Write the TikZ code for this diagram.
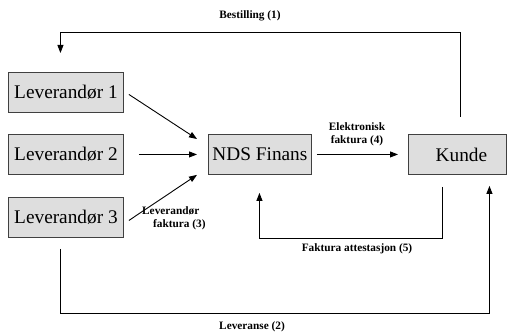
\documentclass[tikz,border=0pt]{standalone}
\usepackage{fontspec}
\setmainfont{Liberation Serif}
\usetikzlibrary{arrows.meta}
\begin{document}
\begin{tikzpicture}[x=1pt,y=-1pt,
  box/.style={draw=black!75, fill=black!13, line width=0.9pt, minimum height=40pt, inner sep=0pt, anchor=north west, font=\rmfamily\fontsize{19.3}{22}\selectfont},
  lbl/.style={font=\rmfamily\bfseries\fontsize{11.3}{13}\selectfont, inner sep=0pt},
  arr/.style={line width=0.9pt, -{Triangle[length=8pt,width=6pt]}}]
\useasboundingbox (0,0) rectangle (508,334);
\node[box, minimum width=115pt] (l1) at (8,72) {Leverandør 1};
\node[box, minimum width=115pt] (l2) at (8,134) {Leverandør 2};
\node[box, minimum width=115pt] (l3) at (8,197) {Leverandør 3};
\node[box, minimum width=103pt] (nds) at (208,134) {NDS Finans};
\node[box, minimum width=98pt] (kunde) at (408,134) {\hspace{8pt}Kunde};
% supplier to NDS
\draw[arr] ([shift={(5,2)}]l1.east) -- ([shift={(-11,5)}]nds.north west);
\draw[arr] ([xshift=15pt]l2.east) -- ([xshift=-11pt]nds.west);
\draw[arr] ([shift={(5,3)}]l3.east) -- ([shift={(-11,0)}]nds.south west);
% NDS to Kunde
\draw[arr] ([xshift=5pt]nds.east) -- ([xshift=-10pt]kunde.west);
% Bestilling
\draw[arr] ([shift={(3,-17)}]kunde.north) |- ([shift={(-5.5,-40)}]l1.north) -- ([shift={(-5.5,-19)}]l1.north);
% Leveranse
\draw[arr] ([shift={(-5.5,11)}]l3.south) -- ([shift={(-5.5,76)}]l3.south) -| ([shift={(32,11)}]kunde.south);
% Attestasjon
\draw[arr] ([shift={(-15,12)}]kunde.south) -- ([shift={(-15,64)}]kunde.south) -| ([shift={(-0.5,18)}]nds.south);
% labels
\node[lbl] (t1) at (250,16) {Bestilling (1)};
\node[lbl] (t2) at (252,327) {Leveranse (2)};
\node[lbl] (t5) at (357,249) {Faktura attestasjon (5)};
\node[lbl, align=center] (t4) at (357,134.5) {Elektronisk\\faktura (4)};
\node[lbl, align=left, anchor=west] (t3) at (142,218.5) {Leverandør\\\hspace{11pt}faktura (3)};
\end{tikzpicture}
\end{document}
